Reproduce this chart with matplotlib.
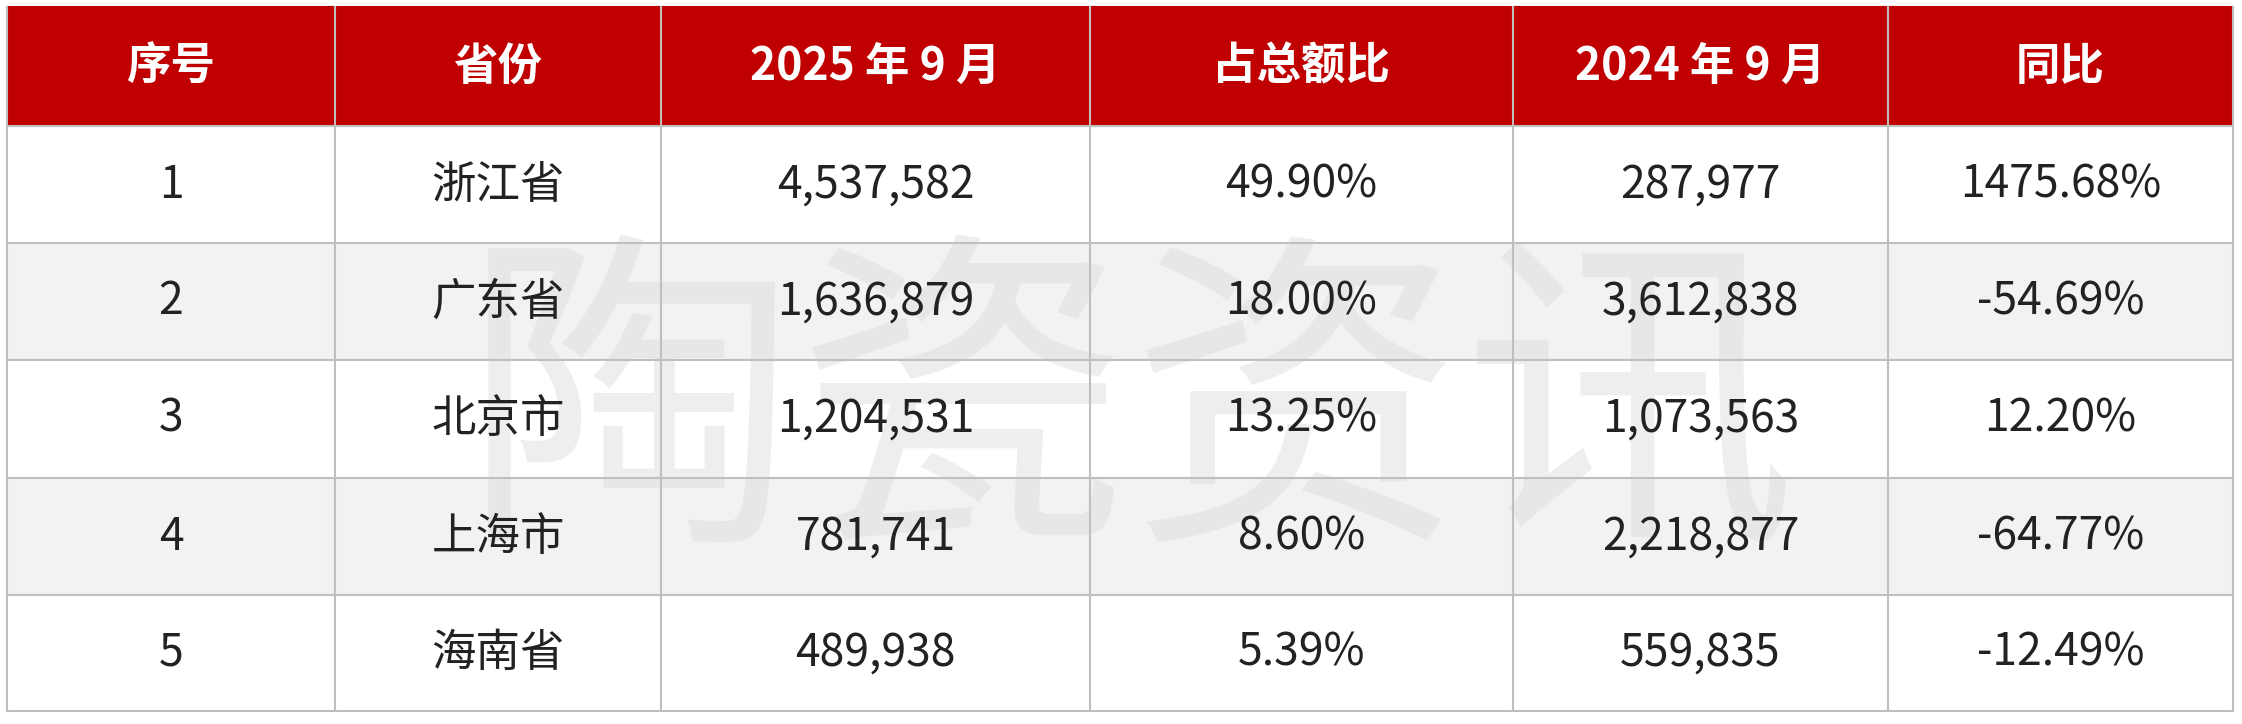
import matplotlib
matplotlib.use("Agg")
import matplotlib.pyplot as plt
from matplotlib.patches import Rectangle

plt.rcParams['font.family'] = ['Noto Sans CJK SC', 'DejaVu Sans']

headers = ["序号", "省份", "2025 年 9 月", "占总额比", "2024 年 9 月", "同比"]
ranks = ["1", "2", "3", "4", "5"]
provinces = ["浙江省", "广东省", "北京市", "上海市", "海南省"]
v2025 = ["4,537,582", "1,636,879", "1,204,531", "781,741", "489,938"]
share = ["49.90%", "18.00%", "13.25%", "8.60%", "5.39%"]
v2024 = ["287,977", "3,612,838", "1,073,563", "2,218,877", "559,835"]
yoy = ["1475.68%", "-54.69%", "12.20%", "-64.77%", "-12.49%"]

W, H = 2242, 724
fig = plt.figure(figsize=(W/100, H/100), dpi=100)
ax = fig.add_axes([0, 0, 1, 1])
ax.set_xlim(0, W); ax.set_ylim(H, 0); ax.axis('off')

xs = [7, 335, 661, 1090, 1513, 1888, 2233]
ys = [7, 126, 243, 360, 478, 595, 711]
red = "#C00000"
rows = [headers] + [list(r) for r in zip(ranks, provinces, v2025, share, v2024, yoy)]

for i, row in enumerate(rows):
    y0, y1 = ys[i], ys[i+1]
    fc = red if i == 0 else ("#ffffff" if i % 2 == 1 else "#f2f2f2")
    ax.add_patch(Rectangle((xs[0], y0), xs[-1]-xs[0], y1-y0, facecolor=fc, edgecolor='none', zorder=1))

ax.text(1130, 420, "陶瓷资讯", fontsize=240, color="#dedede", alpha=0.5,
        ha='center', va='center', zorder=2)

for i, row in enumerate(rows):
    y0, y1 = ys[i], ys[i+1]
    for j, t in enumerate(row):
        cx = (xs[j] + xs[j+1]) / 2
        if i == 0:
            ax.text(cx, (y0+y1)/2, t, fontsize=32, color='white', fontweight='bold',
                    ha='center', va='center', zorder=4)
        else:
            ax.text(cx, (y0+y1)/2, t, fontsize=32, color='#222222',
                    ha='center', va='center', zorder=4)

lc = "#bfbfbf"
for i, y in enumerate(ys):
    ax.plot([xs[0], xs[-1]], [y, y], color=lc if i > 0 else red, lw=1.5, zorder=3)
for x in xs:
    ax.plot([x, x], [ys[0], ys[-1]], color=lc, lw=1.5, zorder=3)

fig.savefig("out.png", dpi=100, facecolor='white')
